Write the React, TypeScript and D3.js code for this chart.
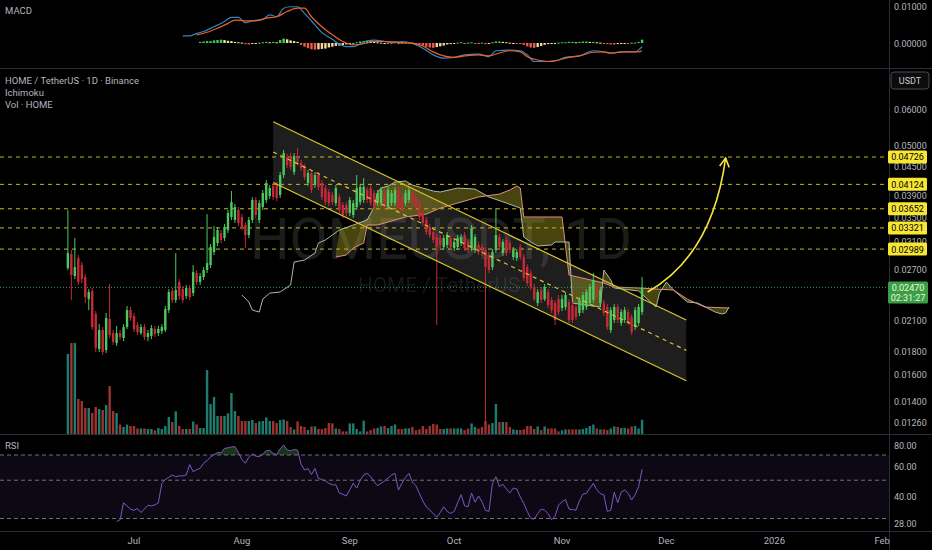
import React, { useEffect, useRef } from 'react';
import * as d3 from 'd3';

// first candle: 12 Jun 2025, one candle per day
const START = Date.UTC(2025, 5, 12);
const DAY = 86400000;

const opens = [
  0.0272, 0.02916, 0.02614, 0.02858, 0.02761, 0.02601, 0.0233, 0.02426, 0.02163, 0.01818,
  0.01998, 0.01809, 0.0211, 0.01968, 0.01872, 0.01968, 0.0192, 0.02028, 0.02207, 0.02142,
  0.02049, 0.01968, 0.02028, 0.0193, 0.01939, 0.02008, 0.01968, 0.01988, 0.01998, 0.02207,
  0.02426, 0.0232, 0.02537, 0.0245, 0.02366, 0.02463, 0.02401, 0.02653, 0.02537, 0.02601,
  0.02693, 0.02761, 0.02945, 0.0308, 0.03237, 0.03157, 0.03286, 0.03506, 0.03454, 0.0363,
  0.03506, 0.03369, 0.03205, 0.03454, 0.03815, 0.03454, 0.03684, 0.03815, 0.03891, 0.0409,
  0.04111, 0.03911, 0.0432, 0.04724, 0.04748, 0.04385, 0.04724, 0.04585, 0.04496, 0.04151,
  0.04363, 0.04111, 0.0432, 0.04151, 0.04049, 0.0397, 0.03911, 0.03758, 0.03872, 0.03721,
  0.03721, 0.03576, 0.03541, 0.03684, 0.03777, 0.03815, 0.0401, 0.04049, 0.0395, 0.03758,
  0.03758, 0.0395, 0.03684, 0.03758, 0.03758, 0.0401, 0.03872, 0.03758, 0.03815, 0.0397,
  0.03872, 0.03758, 0.03576, 0.03454, 0.03335, 0.03253, 0.03173, 0.03157, 0.0302, 0.0305,
  0.03157, 0.03004, 0.0302, 0.0308, 0.03205, 0.03096, 0.03004, 0.02975, 0.0305, 0.0302,
  0.02975, 0.02902, 0.02733, 0.02975, 0.03173, 0.0293, 0.03127, 0.0308, 0.02873, 0.02858,
  0.0302, 0.02873, 0.02733, 0.02653, 0.02475, 0.02285, 0.02438, 0.0233, 0.02414, 0.0232,
  0.02285, 0.0233, 0.02229, 0.0224, 0.02297, 0.02263, 0.0224, 0.02174, 0.02207, 0.0224,
  0.02285, 0.0232, 0.02475, 0.02285, 0.02285, 0.0224, 0.01998, 0.021, 0.0224, 0.02069,
  0.021, 0.02185, 0.02131, 0.02028, 0.02069, 0.02185,
];

const highs = [
  0.0363, 0.02975, 0.03157, 0.02902, 0.02802, 0.02639, 0.0245, 0.02463, 0.02196, 0.02058,
  0.02028, 0.02174, 0.02512, 0.01998, 0.02039, 0.01998, 0.02058, 0.02252, 0.0224, 0.02174,
  0.02079, 0.02058, 0.02058, 0.01998, 0.02049, 0.02039, 0.02039, 0.02058, 0.02252, 0.0245,
  0.02463, 0.0293, 0.02574, 0.02488, 0.025, 0.025, 0.02761, 0.02693, 0.02653, 0.02733,
  0.03557, 0.03064, 0.03352, 0.03335, 0.03286, 0.03385, 0.0363, 0.0399, 0.03739, 0.03684,
  0.03557, 0.03419, 0.03506, 0.03872, 0.03872, 0.03815, 0.0401, 0.04214, 0.04111, 0.04151,
  0.04172, 0.04385, 0.04893, 0.04795, 0.0482, 0.0482, 0.04941, 0.04655, 0.04562, 0.04429,
  0.04429, 0.04385, 0.04385, 0.04214, 0.04111, 0.04029, 0.0397, 0.04111, 0.0393, 0.03777,
  0.03777, 0.03872, 0.03815, 0.0432, 0.0413, 0.04255, 0.0407, 0.04111, 0.0401, 0.0401,
  0.0407, 0.0401, 0.0407, 0.0401, 0.0407, 0.0407, 0.0393, 0.0401, 0.0407, 0.04029,
  0.0393, 0.03815, 0.0363, 0.03506, 0.03385, 0.03302, 0.0322, 0.03205, 0.03205, 0.03253,
  0.03205, 0.03141, 0.03205, 0.0322, 0.03253, 0.03141, 0.03369, 0.0322, 0.03096, 0.03064,
  0.0302, 0.02945, 0.02989, 0.03665, 0.0322, 0.03141, 0.03173, 0.03127, 0.0302, 0.02989,
  0.03064, 0.02916, 0.02773, 0.02693, 0.02512, 0.0245, 0.02475, 0.02512, 0.0245, 0.02354,
  0.0232, 0.02378, 0.02378, 0.02414, 0.0233, 0.02297, 0.02274, 0.02354, 0.02414, 0.0245,
  0.02512, 0.02653, 0.02512, 0.02475, 0.0232, 0.02274, 0.0224, 0.02274, 0.02274, 0.02218,
  0.0224, 0.02218, 0.02163, 0.0224, 0.02274, 0.026,
];

const lows = [
  0.02693, 0.0232, 0.02574, 0.025, 0.02525, 0.02285, 0.02207, 0.01998, 0.01791, 0.01791,
  0.01765, 0.01782, 0.0192, 0.01855, 0.01846, 0.01901, 0.01891, 0.02008, 0.0209, 0.01978,
  0.01949, 0.01949, 0.01901, 0.01891, 0.0191, 0.0193, 0.01939, 0.01958, 0.01978, 0.02174,
  0.02285, 0.02285, 0.0232, 0.02285, 0.0233, 0.0232, 0.02366, 0.025, 0.025, 0.02563,
  0.02653, 0.0272, 0.02902, 0.03035, 0.0308, 0.03111, 0.03237, 0.03454, 0.03402, 0.03352,
  0.03286, 0.03004, 0.03157, 0.03402, 0.03488, 0.03402, 0.0363, 0.03758, 0.03833, 0.03815,
  0.03796, 0.03852, 0.04255, 0.04473, 0.04429, 0.0432, 0.04541, 0.04407, 0.04214, 0.0409,
  0.0395, 0.04049, 0.0401, 0.03815, 0.03721, 0.03702, 0.03721, 0.03702, 0.03576, 0.03488,
  0.03523, 0.03523, 0.03488, 0.0363, 0.03721, 0.03758, 0.03758, 0.03702, 0.0363, 0.03702,
  0.03702, 0.0363, 0.0363, 0.03702, 0.03702, 0.03612, 0.03576, 0.03702, 0.03758, 0.03702,
  0.0363, 0.03454, 0.03352, 0.03205, 0.03157, 0.0308, 0.02049, 0.03004, 0.02975, 0.03004,
  0.02975, 0.0296, 0.02975, 0.03035, 0.0296, 0.0293, 0.0296, 0.0293, 0.02902, 0.02887,
  0.01246, 0.02653, 0.02693, 0.0293, 0.02975, 0.02887, 0.02887, 0.0293, 0.0283, 0.02816,
  0.0283, 0.0255, 0.02488, 0.02438, 0.02308, 0.02252, 0.02285, 0.02308, 0.02229, 0.02174,
  0.02049, 0.02153, 0.02196, 0.02207, 0.02069, 0.02069, 0.021, 0.02142, 0.02174, 0.02207,
  0.02252, 0.02285, 0.0232, 0.02252, 0.02142, 0.01998, 0.01968, 0.02069, 0.02069, 0.02039,
  0.02069, 0.02049, 0.01949, 0.01998, 0.02039, 0.02153,
];

const closes = [
  0.0293, 0.02627, 0.02733, 0.02537, 0.02574, 0.02354, 0.02414, 0.02028, 0.01827, 0.01998,
  0.01791, 0.02121, 0.01949, 0.01882, 0.01968, 0.0193, 0.02028, 0.02207, 0.02121, 0.02008,
  0.01978, 0.02028, 0.0193, 0.01968, 0.02018, 0.01958, 0.02008, 0.02028, 0.02218, 0.02414,
  0.0232, 0.02438, 0.02366, 0.0232, 0.02463, 0.02354, 0.02666, 0.02537, 0.02614, 0.02693,
  0.02788, 0.0302, 0.03173, 0.03286, 0.03127, 0.03335, 0.03576, 0.03777, 0.03684, 0.03402,
  0.03335, 0.03205, 0.03454, 0.03815, 0.03541, 0.03758, 0.0395, 0.04151, 0.04049, 0.03872,
  0.03852, 0.0432, 0.0482, 0.04541, 0.04496, 0.04748, 0.04608, 0.04473, 0.04277, 0.04363,
  0.0401, 0.0432, 0.0407, 0.03872, 0.03777, 0.03758, 0.03777, 0.04049, 0.0363, 0.03541,
  0.03576, 0.03815, 0.03758, 0.04049, 0.0407, 0.0407, 0.03815, 0.03758, 0.03684, 0.0395,
  0.0401, 0.03684, 0.0401, 0.0395, 0.0401, 0.03665, 0.0363, 0.0395, 0.0401, 0.03758,
  0.03684, 0.03506, 0.03402, 0.03253, 0.03205, 0.03127, 0.0302, 0.0305, 0.03157, 0.03205,
  0.0302, 0.03096, 0.03157, 0.03173, 0.03004, 0.02975, 0.03318, 0.03173, 0.02945, 0.0293,
  0.02733, 0.02693, 0.02945, 0.03205, 0.0302, 0.03096, 0.0293, 0.02975, 0.02975, 0.02945,
  0.02873, 0.02588, 0.02525, 0.02475, 0.0233, 0.02414, 0.0232, 0.02475, 0.02263, 0.02207,
  0.021, 0.02185, 0.0233, 0.02378, 0.021, 0.021, 0.02131, 0.0232, 0.02378, 0.02414,
  0.02475, 0.02563, 0.02354, 0.02438, 0.02174, 0.02028, 0.02207, 0.0224, 0.021, 0.02185,
  0.02207, 0.02079, 0.01978, 0.02207, 0.0224, 0.0247,
];

// volume, millions HOME
const volumes = [
  80, 91, 91, 35, 33, 26, 26, 21, 27, 25,
  24, 29, 48, 23, 21, 9.5, 7, 9.5, 8, 8,
  5.5, 5.5, 5.5, 5, 5, 3.7, 6, 5, 8, 17,
  12, 22.6, 8, 5, 5, 5, 12.5, 9.5, 6, 6,
  64, 30, 37, 18, 18, 18, 20.6, 41, 23, 18,
  13, 13, 13, 14, 11, 12.6, 13, 16.6, 13, 13,
  11, 14, 14.6, 13, 7, 4.5, 12.6, 8, 7, 4,
  7.6, 7.6, 5, 5, 6, 11, 10.6, 5.5, 5, 2.6,
  2.6, 10.6, 10.6, 5, 2.6, 13.3, 2.6, 4, 5.5, 6,
  7.6, 8, 6, 8, 9.5, 5, 5, 5.6, 5.6, 7,
  3.7, 4.6, 8, 5, 8, 10, 9.5, 5, 5, 5.5,
  5.5, 5.5, 5.6, 5.6, 4, 5.5, 10.6, 7, 5.5, 7,
  13, 9.5, 11, 30, 12, 12, 12, 7, 4.6, 4,
  4, 4.6, 8, 8, 5, 7.6, 4, 7.6, 5.5, 5.5,
  5.5, 2.6, 3.6, 4.6, 4.6, 4.6, 4.6, 4.6, 5, 6,
  8, 9.5, 5.5, 4.6, 4.6, 4, 5.5, 7.6, 7, 6,
  6, 5.6, 7.6, 8, 5.5, 14.3,
];

const rsiStart = 14;
const rsiValues = [
  28.8, 29.5, 37, 35.5, 34, 33.5, 34.3, 32.5, 34, 35.8,
  35.5, 36, 37, 48, 50.4, 52, 53.6, 52.4, 53, 53,
  53.6, 61.6, 56, 57.5, 58.5, 62.7, 65, 68, 70.4, 72.5,
  72, 76.5, 77, 78, 78.2, 72.5, 66, 62.7, 68, 71,
  69, 68.5, 71, 74, 74.5, 71.5, 70.4, 76, 80, 75,
  74, 75.4, 74.7, 62, 57.3, 58.5, 54, 58.5, 51.2, 50.5,
  49.5, 48, 47, 47, 42.2, 41.5, 40.5, 44, 48, 45,
  50, 53.6, 54.8, 52.4, 49, 46.5, 48, 49.5, 51.5, 53.5,
  54.8, 43.9, 48, 52, 54.8, 48.8, 46.5, 42, 37.9, 35,
  33.6, 32, 30.5, 32.5, 35.1, 33, 32.1, 33, 37, 41.2,
  35.5, 35.1, 42.2, 37.3, 40.5, 37.5, 33.5, 33, 48, 52.4,
  45.9, 47.4, 44.5, 42.2, 45, 44.5, 40, 36.7, 33, 30,
  29.8, 32, 34, 33.5, 32, 29.5, 31, 35.9, 37.5, 38.7,
  34, 33.8, 33.5, 38, 41.5, 42, 45, 48, 44, 41.8,
  41.2, 33, 33.5, 42.6, 37.1, 42.6, 43.9, 42, 38.4, 41.2,
  45.9, 57.8,
];

// [day index, value]
const macdLine: [number, number][] = [
  [33, 0.0019], [35, 0.0019], [37, 0.0026], [39, 0.0031], [42, 0.0044], [45, 0.0058],
  [47, 0.0069], [49, 0.0069], [51, 0.0055], [53, 0.006], [56, 0.0064], [58, 0.0076],
  [60, 0.0071], [62, 0.0094], [64, 0.0098], [66, 0.0098], [68, 0.008], [71, 0.0049],
  [73, 0.0028], [76, 0.001], [78, -0.0003], [80, -0.001], [82, -0.001], [84, -0.0003],
  [86, 0.0006], [88, 0.0008], [91, 0.0004], [93, 0.0001], [96, 0.0004], [99, -0.0001],
  [102, -0.0014], [105, -0.0032], [108, -0.0041], [111, -0.0039], [114, -0.0032],
  [118, -0.003], [121, -0.0037], [123, -0.0021], [127, -0.0019], [130, -0.0021],
  [132, -0.0032], [134, -0.005], [137, -0.005], [140, -0.0048], [143, -0.0039],
  [147, -0.0035], [151, -0.0021], [154, -0.0024], [156, -0.0028], [159, -0.0024],
  [163, -0.0024], [165, -0.001],
];

const signalLine: [number, number][] = [
  [37, 0.0022], [40, 0.0029], [43, 0.004], [46, 0.0053], [48, 0.0062], [51, 0.006],
  [54, 0.006], [57, 0.0067], [60, 0.0071], [63, 0.0085], [66, 0.0094], [68, 0.0094],
  [70, 0.0071], [73, 0.0044], [76, 0.0022], [79, 0.0004], [82, -0.0005], [85, -0.0002],
  [88, 0.0004], [91, 0.0004], [94, 0.0003], [96, 0.0001], [99, -0.0001], [102, -0.0008],
  [105, -0.0024], [108, -0.0035], [111, -0.0039], [114, -0.0035], [118, -0.0032],
  [121, -0.0035], [124, -0.0027], [127, -0.0021], [130, -0.0024], [132, -0.0037],
  [135, -0.0046], [138, -0.005], [141, -0.0046], [144, -0.0039], [147, -0.0035],
  [151, -0.0025], [154, -0.0024], [156, -0.0027], [160, -0.0024], [164, -0.0024],
  [165, -0.0021],
];

// histogram, units of 0.0001
const histStart = 38;
const histValues = [
  3, 4, 5, 5, 7, 8, 9, 8, 6, 5, 3, 2, 1, -3, -4, -2, -1, 1, 2, 3,
  2, 3, 2, 8, 12, 10, 7, 5, 3, -5, -10, -14, -17, -18, -17, -16, -15, -12, -10, -8,
  -7, -6, -4, -2, 0, 2, 4, 5, 6, 5, 4, 2, 1, 0, -1, 1, 2, 1, -1, 1,
  2, 1, -1, -4, -7, -10, -12, -13, -11, -9, -7, -4, -3, -2, 1, 2, -1, 1, 2, -1,
  -2, 1, -3, -2, 2, 4, 4, 3, 2, 1, 0, -1, -2, -5, -9, -12, -13, -11, -8, -5,
  -3, -2, -1, 1, 2, 2, 3, 3, 2, 3, 4, 4, 3, 3, 2, 1, -1, -3, -4, -4,
  -3, -2, -1, -1, 1, 1, 3, 9,
];

// Ichimoku leading spans, [day index, price]
const spanA: [number, number][] = [
  [50, 0.02378], [52, 0.02297], [53, 0.02207], [55, 0.02185], [56, 0.0233], [58, 0.02401],
  [61, 0.02414], [64, 0.025], [65, 0.02802], [68, 0.0283], [71, 0.0293], [72, 0.0308],
  [74, 0.03127], [76, 0.03205], [78, 0.03286], [82, 0.03369], [86, 0.03454], [88, 0.03684],
  [89, 0.0397], [90, 0.04049], [92, 0.0409], [94, 0.04172], [97, 0.04193], [99, 0.04111],
  [102, 0.04049], [105, 0.0399], [107, 0.0397], [112, 0.04049], [117, 0.04029],
  [121, 0.03872], [126, 0.03758], [130, 0.03665], [131, 0.03173], [133, 0.03096],
  [135, 0.03035], [139, 0.0305], [140, 0.03096], [144, 0.03096], [145, 0.02285],
  [153, 0.0224], [154, 0.02693], [156, 0.02563], [157, 0.02463], [164, 0.02426],
  [169, 0.0224], [170, 0.02401], [172, 0.02537], [174, 0.02438], [178, 0.02297],
  [181, 0.02285], [186, 0.02185], [188, 0.02163], [189, 0.02174], [190, 0.0224],
];

const spanB: [number, number][] = [
  [77, 0.02873], [80, 0.02902], [82, 0.03004], [85, 0.0308], [86, 0.03369], [89, 0.03369],
  [92, 0.03419], [97, 0.03506], [103, 0.03557], [107, 0.03665], [112, 0.03758],
  [118, 0.03872], [124, 0.0393], [127, 0.0401], [129, 0.0409], [130, 0.04049],
  [131, 0.03506], [142, 0.03506], [144, 0.02627], [154, 0.02525], [157, 0.02475],
  [164, 0.02463], [174, 0.02438], [178, 0.0233], [183, 0.0224], [190, 0.02229],
];

const levels = [0.04726, 0.04124, 0.03652, 0.03321, 0.02989];
const priceTicks = [0.06, 0.05, 0.045, 0.039, 0.035, 0.031, 0.027, 0.021, 0.018, 0.016, 0.014, 0.0126];
const rsiTicks = [80, 60, 40, 28];
const rsiBands = [70, 50, 30];
const macdTicks = [0.01, 0];
const lastPrice = 0.0247;
const countdown = '02:31:27';

// parallel channel anchors
const channelDays = [59, 177.7];
const channelUpper = [0.0563, 0.021];
const channelMid = [0.04844, 0.01806];
const channelLower = [0.04164, 0.01553];

// projection arrow: start, control, end
const arrowPts: [number, number][] = [[166.6, 0.02414], [185.2, 0.02902], [189, 0.04701]];

const FONT = 'Roboto, "Noto Sans", sans-serif';
const UP = '#4cc95c';
const DOWN = '#c52a38';
const YEL = '#d9c62a';

const App: React.FC = () => {
  const svgRef = useRef<SVGSVGElement | null>(null);

  useEffect(() => {
    if (!svgRef.current) return;
    const svg = d3.select(svgRef.current);
    svg.selectAll('*').remove();

    const W = 932;
    const H = 550;
    const AX = 889; // right price axis starts here

    const x = d3.scaleUtc()
      .domain([new Date(Date.UTC(2025, 6, 1)), new Date(Date.UTC(2026, 1, 1))])
      .range([134, 134 + 215 * 3.48]);
    const xi = (i: number) => x(new Date(START + i * DAY));
    const y = d3.scaleLog().domain([0.0126, 0.06]).range([422.7, 109]);
    const yVol = d3.scaleLinear().domain([0, 100]).range([434, 334]);
    const yRsi = d3.scaleLog().domain([28, 80]).range([523.7, 445]);
    const yMacd = d3.scaleLinear().domain([0, 0.01]).range([43, 6]);

    svg.append('rect').attr('width', W).attr('height', H).attr('fill', '#000');

    const defs = svg.append('defs');
    defs.append('clipPath').attr('id', 'mainClip')
      .append('rect').attr('x', 0).attr('y', 69).attr('width', AX).attr('height', 365);
    defs.append('clipPath').attr('id', 'obClip')
      .append('rect').attr('x', 0).attr('y', 435).attr('width', AX).attr('height', yRsi(70) - 435);

    // ---------- MACD pane ----------
    const macd = svg.append('g');
    histValues.forEach((h, k) => {
      const v = h / 10000;
      const prev = k > 0 ? histValues[k - 1] : 0;
      let col;
      if (h >= 0) col = h >= prev ? '#3fcf5b' : '#efeb95';
      else col = h <= prev ? '#ef5a4c' : '#f3d89a';
      const y0 = yMacd(0);
      const y1 = yMacd(v);
      macd.append('rect')
        .attr('x', xi(histStart + k) - 1.2)
        .attr('width', 2.4)
        .attr('y', Math.min(y0, y1))
        .attr('height', Math.max(1, Math.abs(y1 - y0)))
        .attr('fill', col);
    });
    const mline = d3.line<[number, number]>().x((d) => xi(d[0])).y((d) => yMacd(d[1])).curve(d3.curveMonotoneX);
    macd.append('path').attr('d', mline(macdLine)).attr('fill', 'none').attr('stroke', '#2f86c4').attr('stroke-width', 1.2);
    macd.append('path').attr('d', mline(signalLine)).attr('fill', 'none').attr('stroke', '#ef5f2a').attr('stroke-width', 1.2);

    // ---------- main pane ----------
    const main = svg.append('g').attr('clip-path', 'url(#mainClip)');

    // watermark
    main.append('text').text('HOMEUSDT, 1D')
      .attr('x', 250).attr('y', 259)
      .attr('textLength', 382).attr('lengthAdjust', 'spacingAndGlyphs')
      .attr('font-family', FONT).attr('font-size', 58)
      .attr('fill', 'rgba(255,255,255,0.11)');
    main.append('text').text('HOME / TetherUS')
      .attr('x', 358).attr('y', 292)
      .attr('textLength', 162).attr('lengthAdjust', 'spacingAndGlyphs')
      .attr('font-family', FONT).attr('font-size', 20)
      .attr('fill', 'rgba(255,255,255,0.11)');

    // channel fill
    const chPoly: [number, number][] = [
      [xi(channelDays[0]), y(channelUpper[0])],
      [xi(channelDays[1]), y(channelUpper[1])],
      [xi(channelDays[1]), y(channelLower[1])],
      [xi(channelDays[0]), y(channelLower[0])],
    ];
    main.append('path').attr('d', d3.line()(chPoly) + 'Z').attr('fill', 'rgba(150,150,150,0.2)');

    // ichimoku cloud
    const sline = d3.line<[number, number]>().x((d) => xi(d[0])).y((d) => y(d[1]));
    const cloudPts = [...spanA.filter((d) => d[0] >= 77), ...spanB.slice().reverse()];
    main.append('path').attr('d', sline(cloudPts) + 'Z').attr('fill', 'rgba(190,180,40,0.38)');
    main.append('path').attr('d', sline(spanA)).attr('fill', 'none').attr('stroke', '#a9bba3').attr('stroke-width', 1);
    main.append('path').attr('d', sline(spanB)).attr('fill', 'none').attr('stroke', '#e0907c').attr('stroke-width', 1);

    // horizontal levels
    levels.forEach((lv) => {
      main.append('line')
        .attr('x1', 0).attr('x2', AX)
        .attr('y1', y(lv)).attr('y2', y(lv))
        .attr('stroke', '#cdb91e').attr('stroke-width', 1).attr('stroke-dasharray', '4,4');
    });

    // volume
    volumes.forEach((v, i) => {
      const up = closes[i] >= opens[i];
      main.append('rect')
        .attr('x', xi(i) - 1.2).attr('width', 2.4)
        .attr('y', yVol(v)).attr('height', yVol(0) - yVol(v))
        .attr('fill', up ? '#1f7d70' : '#9e3430');
    });

    // current price line
    main.append('line')
      .attr('x1', 0).attr('x2', AX)
      .attr('y1', y(lastPrice)).attr('y2', y(lastPrice))
      .attr('stroke', '#2f9e4f').attr('stroke-width', 1).attr('stroke-dasharray', '1,2');

    // candles
    opens.forEach((o, i) => {
      const c = closes[i];
      const col = c >= o ? UP : DOWN;
      const cx = xi(i);
      main.append('line')
        .attr('x1', cx).attr('x2', cx)
        .attr('y1', y(highs[i])).attr('y2', y(lows[i]))
        .attr('stroke', col).attr('stroke-width', 1);
      main.append('rect')
        .attr('x', cx - 1.2).attr('width', 2.4)
        .attr('y', Math.min(y(o), y(c)))
        .attr('height', Math.max(1, Math.abs(y(o) - y(c))))
        .attr('fill', col);
    });

    // channel lines
    const chLine = (p: number[]) => d3.line()([[xi(channelDays[0]), y(p[0])], [xi(channelDays[1]), y(p[1])]]);
    main.append('path').attr('d', chLine(channelUpper)).attr('stroke', YEL).attr('stroke-width', 1.2).attr('fill', 'none');
    main.append('path').attr('d', chLine(channelLower)).attr('stroke', YEL).attr('stroke-width', 1.2).attr('fill', 'none');
    main.append('path').attr('d', chLine(channelMid)).attr('stroke', YEL).attr('stroke-width', 1.2)
      .attr('stroke-dasharray', '4,4').attr('fill', 'none');

    // arrow
    const ap = arrowPts.map((d) => [xi(d[0]), y(d[1])]);
    main.append('path')
      .attr('d', `M${ap[0][0]},${ap[0][1]} Q${ap[1][0]},${ap[1][1]} ${ap[2][0]},${ap[2][1]}`)
      .attr('fill', 'none').attr('stroke', '#f7e43a').attr('stroke-width', 1.6);
    const ang = Math.atan2(ap[2][1] - ap[1][1], ap[2][0] - ap[1][0]);
    const head = (da: number) => [ap[2][0] - 10 * Math.cos(ang + da), ap[2][1] - 10 * Math.sin(ang + da)];
    const h1 = head(0.5);
    const h2 = head(-0.5);
    main.append('path')
      .attr('d', `M${h1[0]},${h1[1]} L${ap[2][0]},${ap[2][1]} L${h2[0]},${h2[1]}`)
      .attr('fill', 'none').attr('stroke', '#f7e43a').attr('stroke-width', 1.6);

    // ---------- RSI pane ----------
    const rsi = svg.append('g');
    rsi.append('rect')
      .attr('x', 0).attr('width', AX)
      .attr('y', yRsi(70)).attr('height', yRsi(30) - yRsi(70))
      .attr('fill', 'rgba(126,87,194,0.1)');
    rsiBands.forEach((b) => {
      rsi.append('line')
        .attr('x1', 0).attr('x2', AX)
        .attr('y1', yRsi(b)).attr('y2', yRsi(b))
        .attr('stroke', '#6e6f78').attr('stroke-width', 1).attr('stroke-dasharray', '4,3');
    });
    const rsiPts: [number, number][] = rsiValues.map((v, k) => [rsiStart + k, v]);
    const rArea = d3.area<[number, number]>().x((d) => xi(d[0])).y0(yRsi(70)).y1((d) => yRsi(d[1]));
    rsi.append('path').attr('d', rArea(rsiPts)).attr('clip-path', 'url(#obClip)').attr('fill', 'rgba(76,175,80,0.3)');
    const rLine = d3.line<[number, number]>().x((d) => xi(d[0])).y((d) => yRsi(d[1]));
    rsi.append('path').attr('d', rLine(rsiPts)).attr('fill', 'none').attr('stroke', '#7e57c2').attr('stroke-width', 1);

    // ---------- separators ----------
    const sep = '#2a2e39';
    svg.append('line').attr('x1', 0).attr('x2', W).attr('y1', 68.5).attr('y2', 68.5).attr('stroke', sep);
    svg.append('line').attr('x1', 0).attr('x2', W).attr('y1', 434.5).attr('y2', 434.5).attr('stroke', sep);
    svg.append('line').attr('x1', 0).attr('x2', W).attr('y1', 531.5).attr('y2', 531.5).attr('stroke', sep);
    svg.append('line').attr('x1', AX + 0.5).attr('x2', AX + 0.5).attr('y1', 0).attr('y2', H).attr('stroke', sep);

    // ---------- legends ----------
    const txt = (s: string, tx: number, ty: number, col = '#b2b5be', size = 9.5) =>
      svg.append('text').text(s).attr('x', tx).attr('y', ty)
        .attr('font-family', FONT).attr('font-size', size).attr('fill', col);
    txt('MACD', 5, 14);
    txt('HOME / TetherUS · 1D · Binance', 5, 84);
    txt('Ichimoku', 5, 96);
    txt('Vol · HOME', 5, 108);
    txt('RSI', 5, 449);

    // ---------- axes ----------
    const f5 = d3.format('.5f');
    macdTicks.forEach((t) => txt(f5(t), 894, yMacd(t) + 3.5, '#b2b5be', 9));
    priceTicks.forEach((t) => txt(f5(t), 894, y(t) + 3.5, '#b2b5be', 9));
    rsiTicks.forEach((t) => txt(d3.format('.2f')(t), 894, yRsi(t) + 3.5, '#b2b5be', 9));

    const months = d3.utcMonth.range(new Date(Date.UTC(2025, 6, 1)), new Date(Date.UTC(2026, 1, 2)));
    months.forEach((m) => {
      const label = m.getUTCMonth() === 0 ? d3.utcFormat('%Y')(m) : d3.utcFormat('%b')(m);
      svg.append('text').text(label)
        .attr('x', x(m)).attr('y', 544)
        .attr('text-anchor', 'middle')
        .attr('font-family', FONT).attr('font-size', 9.5).attr('fill', '#b2b5be');
    });

    // USDT box
    svg.append('rect').attr('x', 891).attr('y', 72).attr('width', 38).attr('height', 17)
      .attr('rx', 3).attr('fill', '#0c0c0c').attr('stroke', '#4a4d55');
    svg.append('text').text('USDT').attr('x', 910).attr('y', 84).attr('text-anchor', 'middle')
      .attr('font-family', FONT).attr('font-size', 9).attr('fill', '#c8cad0');

    // level labels (cover the tick labels under them, as on the reference)
    levels.forEach((lv) => {
      const ly = y(lv);
      svg.append('rect').attr('x', 888).attr('y', ly - 6.5).attr('width', 39).attr('height', 13)
        .attr('rx', 1.5).attr('fill', '#f7e733');
      svg.append('text').text(f5(lv)).attr('x', 907.5).attr('y', ly + 3.5).attr('text-anchor', 'middle')
        .attr('font-family', FONT).attr('font-size', 9).attr('fill', '#000');
    });

    // last price label
    const py = y(lastPrice);
    svg.append('rect').attr('x', 888).attr('y', py - 6).attr('width', 40).attr('height', 22)
      .attr('rx', 1.5).attr('fill', '#3a9e46');
    svg.append('text').text(f5(lastPrice)).attr('x', 908).attr('y', py + 3.5).attr('text-anchor', 'middle')
      .attr('font-family', FONT).attr('font-size', 9).attr('fill', '#eef7d8');
    svg.append('text').text(countdown).attr('x', 908).attr('y', py + 13.5).attr('text-anchor', 'middle')
      .attr('font-family', FONT).attr('font-size', 9).attr('fill', '#eef7d8');
  }, []);

  return (
    <div style={{ position: 'fixed', left: 0, top: 0, width: 932, height: 550, background: '#000' }}>
      <svg ref={svgRef} width={932} height={550} style={{ display: 'block' }} />
    </div>
  );
};

export default App;
